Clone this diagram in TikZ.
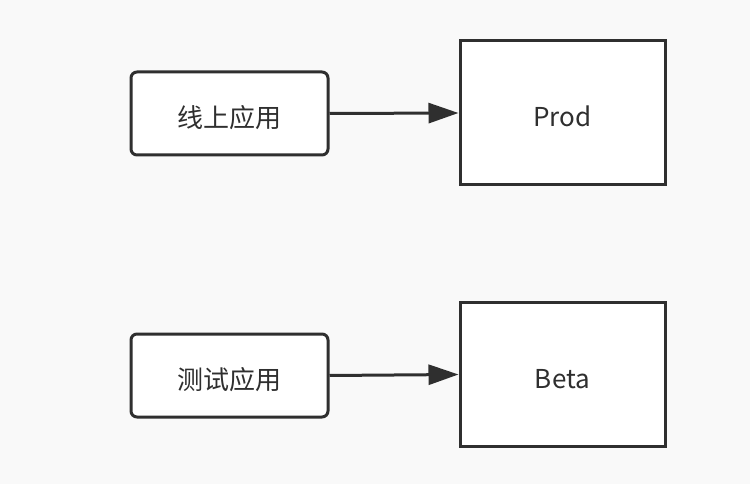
\documentclass[tikz,border=0pt]{standalone}
\usepackage{fontspec}
\setmainfont{Noto Sans CJK SC}
\usetikzlibrary{arrows.meta}
\definecolor{bg}{HTML}{F9F9F9}
\definecolor{ink}{HTML}{2F2F2F}
\newcommand{\lowtext}[1]{\raisebox{-14pt}[0pt][0pt]{#1}}
\begin{document}
\begin{tikzpicture}[x=1pt,y=-1pt,
  appbox/.style={draw=ink,line width=3pt,fill=white,rounded corners=6pt,minimum width=197pt,minimum height=83pt,inner sep=0pt,font=\fontsize{26}{30}\selectfont,text=ink},
  envbox/.style={draw=ink,line width=3pt,fill=white,minimum width=205pt,minimum height=144pt,inner sep=0pt,font=\fontsize{26}{30}\selectfont,text=ink},
  conn/.style={draw=ink,line width=3pt,-{Triangle[length=30pt,width=20pt]}}]
\fill[bg] (0,0) rectangle (750,484);
\useasboundingbox (0,0) rectangle (750,484);
\node[appbox] (a1) at (229.5,113.5) {\lowtext{线上应用}};
\node[appbox] (a2) at (229.5,375.5) {\lowtext{测试应用}};
\node[envbox] (p) at (562.5,113) {\lowtext{Prod}};
\node[envbox] (b) at (562.5,374.5) {\lowtext{Beta}};
\draw[conn] (a1.east) -- (p.west);
\draw[conn] (a2.east) -- (b.west);
\end{tikzpicture}
\end{document}
